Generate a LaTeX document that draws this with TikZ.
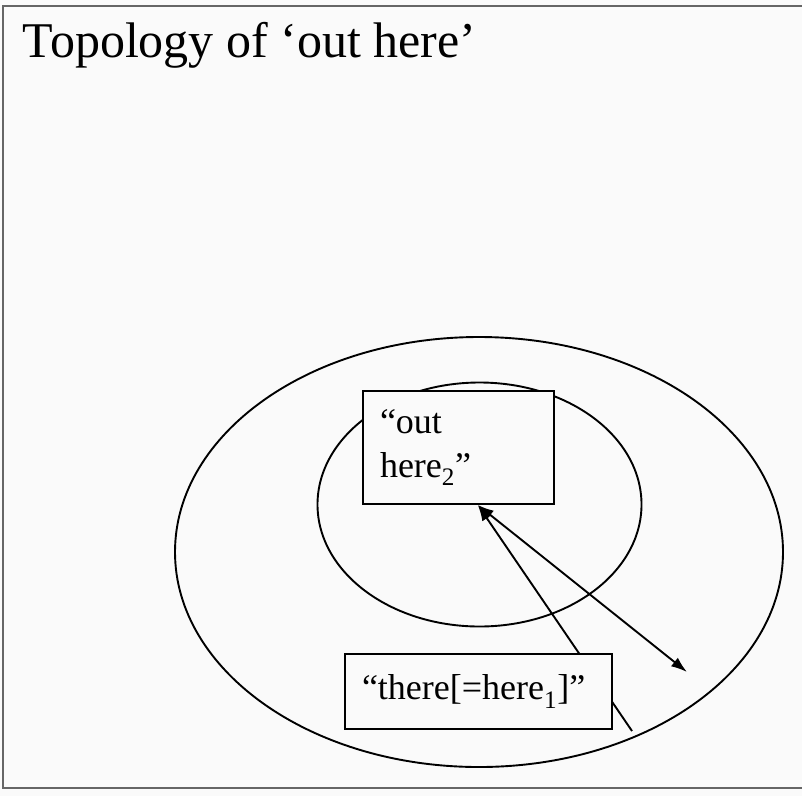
\documentclass[tikz,border=0pt]{standalone}
\usepackage{fontspec}
\setmainfont{Liberation Serif}
\usetikzlibrary{arrows.meta,calc}
\definecolor{framegray}{rgb}{0.4,0.4,0.4}
\definecolor{paper}{rgb}{0.98,0.98,0.98}
\begin{document}
\begin{tikzpicture}[x=1pt,y=-1pt,line width=1.9pt,>={Latex[length=16pt,width=11pt]},
    box/.style={draw,fill=paper,align=left,inner xsep=17pt,inner ysep=0pt,
      font=\fontsize{36}{44}\selectfont}]
    \fill[paper] (0,0) rectangle (802,796);
    \useasboundingbox (0,0) rectangle (802,796);
    \draw[framegray,line width=2.5pt] (802,6) -- (3,6) -- (3,788) -- (802,788);
    \node [anchor=base west,inner sep=0pt,font=\fontsize{50}{60}\selectfont] (title) at (22,57) {Topology of ‘out here’};
    \draw (479,552) ellipse [x radius=304,y radius=215];
    \draw (479.5,504.5) ellipse [x radius=162,y radius=122];
    \coordinate (rim) at (632,731);
    \coordinate (far) at (687,672);
    \node [box,text width=157pt,minimum height=113pt] (hereTwo) at (458.5,447.5) {“out\\here\textsubscript{2}”};
    \coordinate (meet) at ($(hereTwo.south west)!0.6!(hereTwo.south east)$);
    \draw[->] (rim) -- (meet);
    \draw[<->] (meet) -- (far);
    \node [box,text width=233pt,minimum height=75pt] (thereOne) at (478.5,691.5) {“there[=here\textsubscript{1}]”};
  \end{tikzpicture}
\end{document}
